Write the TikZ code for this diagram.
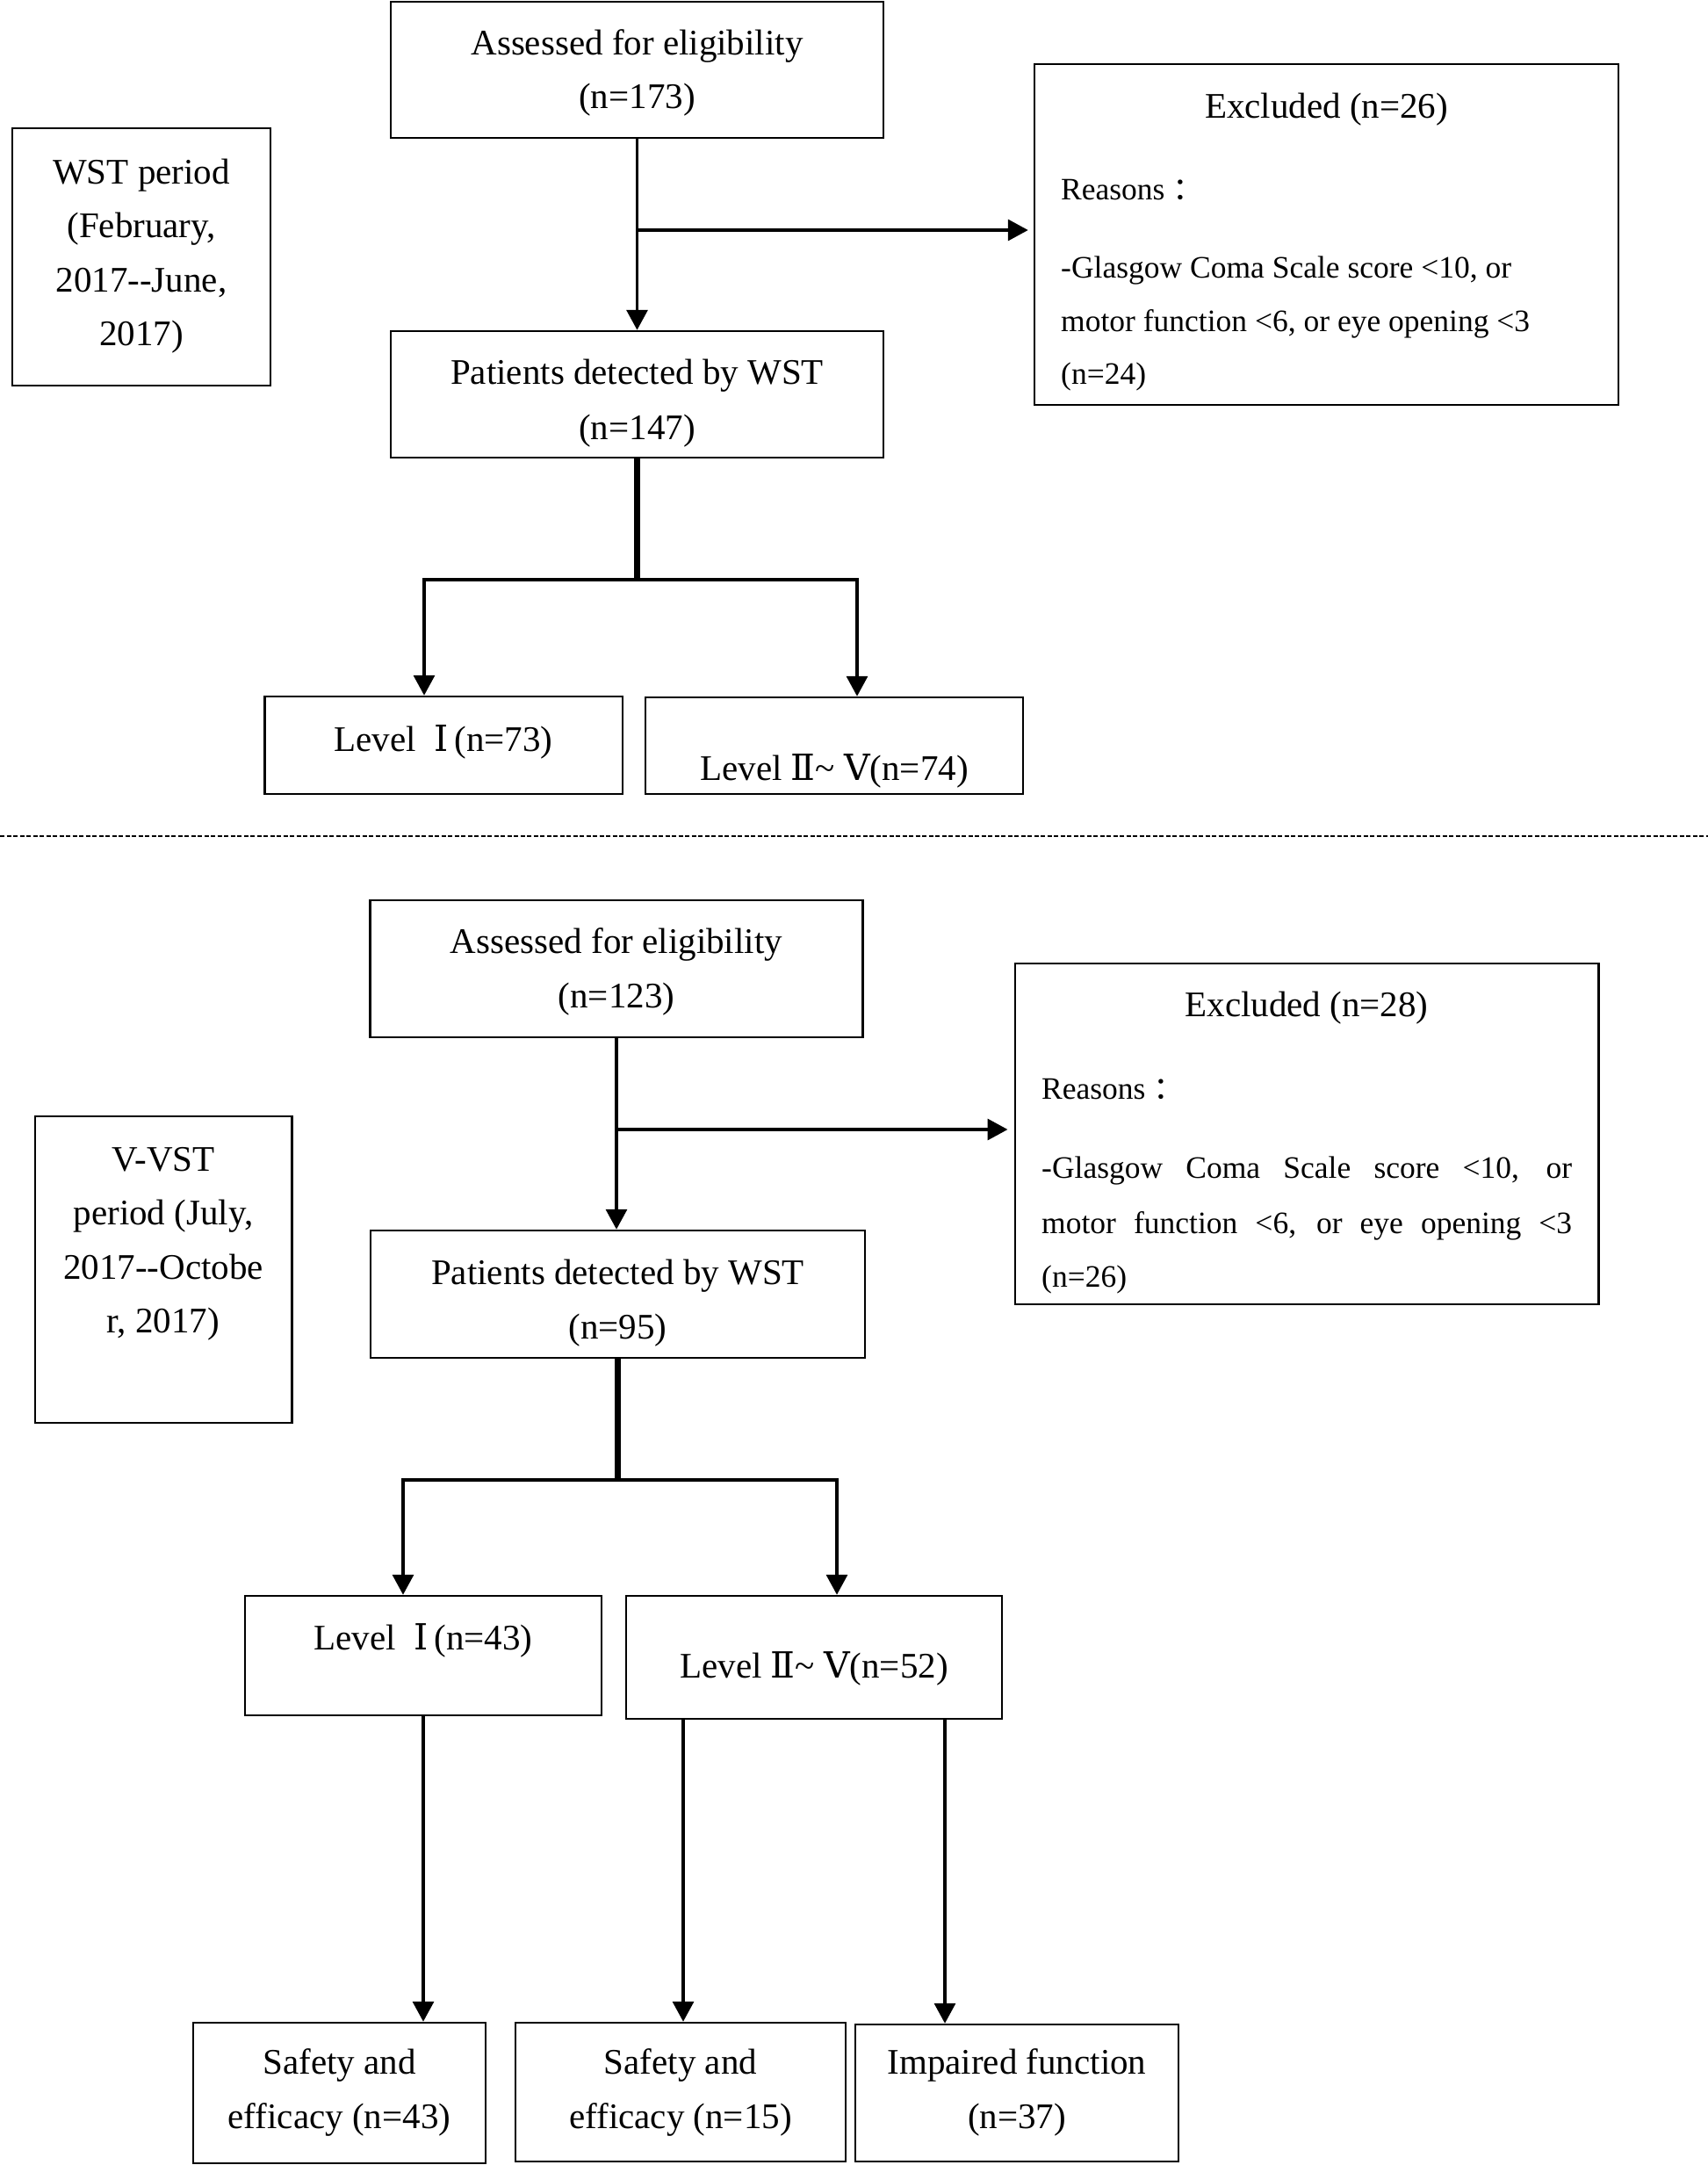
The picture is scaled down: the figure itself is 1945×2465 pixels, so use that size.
\documentclass[tikz,border=0pt]{standalone}
\usepackage{fontspec}
\setmainfont{Liberation Serif}
\newfontfamily\cjk{Noto Sans CJK SC}
\newfontfamily\numf{DejaVu Serif}
\usetikzlibrary{arrows.meta,calc}
\newcommand{\romI}{{\numf Ⅰ}}
\newcommand{\romII}{{\numf Ⅱ}}
\newcommand{\romV}{{\numf Ⅴ}}
\newcommand{\dd}{\mbox{-}\mbox{-}}
\tikzset{
  bx/.style={draw, line width=2.5pt, rectangle, inner sep=0pt},
  tx/.style={font=\fontsize{41pt}{49pt}\selectfont, inner sep=0pt, anchor=base},
  rs/.style={font=\fontsize{35.5pt}{42pt}\selectfont, inner sep=0pt, anchor=base west},
  conn/.style={line width=3.5pt},
  trunk/.style={line width=7pt},
  arr/.style={line width=3.5pt, -{Triangle[length=23pt,width=24pt]}},
  dl/.style={line width=2pt, dash pattern=on 5pt off 2.5pt}
}
\begin{document}
\begin{tikzpicture}[x=1pt,y=-1pt]
\fill[white] (0,0) rectangle (1945,2465);
\useasboundingbox (0,0) rectangle (1945,2465);

% ---------- top section ----------
\node[bx, minimum width=561pt, minimum height=155pt] (a1) at (725.5,79.5) {};
\node[tx] (a1t1) at (725.5,62.5) {Assessed for eligibility};
\node[tx] (a1t2) at (725.5,123) {(n=173)};

\node[bx, minimum width=294pt, minimum height=293pt] (w1) at (161,292.5) {};
\node[tx] (w1t1) at (161,209) {WST period};
\node[tx] (w1t2) at (161,270.5) {(February,};
\node[tx] (w1t3) at (161,332) {2017\dd June,};
\node[tx] (w1t4) at (161,393.5) {2017)};

\node[bx, minimum width=561pt, minimum height=144pt] (p1) at (725.5,449) {};
\node[tx] (p1t1) at (725.5,437.5) {Patients detected by WST};
\node[tx] (p1t2) at (725.5,500) {(n=147)};

\node[bx, minimum width=665pt, minimum height=388pt] (e1) at (1510.5,267) {};
\node[tx] (e1t) at (1510.5,134) {Excluded (n=26)};
\node[rs] (e1r1) at (1208,227) {Reasons\hspace{9pt}{\cjk ：}};
\node[rs] (e1r2) at (1208,316) {-Glasgow Coma Scale score <10, or};
\node[rs] (e1r3) at (1208,377) {motor function <6, or eye opening <3};
\node[rs] (e1r4) at (1208,437) {(n=24)};

\node[bx, minimum width=407.5pt, minimum height=111pt] (l1) at (505,848.5) {};
\node[tx] (l1t) at (505,855) {Level\ \ \romI\,(n=73)};
\node[bx, minimum width=430pt, minimum height=110pt] (l2) at (950,849) {};
\node[tx] (l2t) at (950,888) {Level \romII\textasciitilde\ \romV(n=74)};

\draw[arr] (a1.south) -- (p1.north);
\coordinate (j1) at (725.5,262);
\draw[arr, shorten >=6pt] (j1) -- (j1 -| e1.west);
\coordinate (s1) at (725.5,660);
\coordinate (s1l) at (483,660);
\coordinate (s1r) at (976,660);
\draw[trunk] (p1.south) -- (s1);
\draw[arr] (s1) -- (s1l) -- (s1l |- l1.north);
\draw[arr] (s1) -- (s1r) -- (s1r |- l2.north);

% ---------- separator ----------
\coordinate (dl1) at (0,952);
\coordinate (dl2) at (1945,952);
\draw[dl] (dl1) -- (dl2);

% ---------- bottom section ----------
\node[bx, minimum width=561pt, minimum height=156pt] (a2) at (702,1103) {};
\node[tx] (a2t1) at (702,1085) {Assessed for eligibility};
\node[tx] (a2t2) at (702,1147) {(n=123)};

\node[bx, minimum width=292.5pt, minimum height=349pt] (w2) at (186,1445.5) {};
\node[tx] (w2t1) at (186,1333) {V-VST};
\node[tx] (w2t2) at (186,1394.5) {period (July,};
\node[tx] (w2t3) at (186,1456) {2017\dd Octobe};
\node[tx] (w2t4) at (186,1517.5) {r, 2017)};

\node[bx, minimum width=563pt, minimum height=145pt] (p2) at (703.5,1473.5) {};
\node[tx] (p2t1) at (703.5,1462) {Patients detected by WST};
\node[tx] (p2t2) at (703.5,1524) {(n=95)};

\node[bx, minimum width=664.5pt, minimum height=388pt] (e2) at (1488,1291) {};
\node[tx] (e2t) at (1488,1157) {Excluded (n=28)};
\node[rs] (e2r1) at (1186,1251) {Reasons\hspace{9pt}{\cjk ：}};
\node[rs] (e2r2) at (1186,1341) {\makebox[604pt][s]{-Glasgow Coma Scale score <10, or}};
\node[rs] (e2r3) at (1186,1404) {\makebox[604pt][s]{motor function <6, or eye opening <3}};
\node[rs] (e2r4) at (1186,1465) {(n=26)};

\node[bx, minimum width=406pt, minimum height=136pt] (l1b) at (482,1885) {};
\node[tx] (l1bt) at (482,1878) {Level\ \ \romI\,(n=43)};
\node[bx, minimum width=428pt, minimum height=140pt] (l2b) at (927,1887) {};
\node[tx] (l2bt) at (927,1910) {Level \romII\textasciitilde\ \romV(n=52)};

\node[bx, minimum width=333pt, minimum height=160pt] (sa) at (386.5,2383) {};
\node[tx] (sat1) at (386.5,2361) {Safety and};
\node[tx] (sat2) at (386.5,2423) {efficacy (n=43)};
\node[bx, minimum width=376pt, minimum height=158pt] (sb) at (775,2382) {};
\node[tx] (sbt1) at (775,2361) {Safety and};
\node[tx] (sbt2) at (775,2423) {efficacy (n=15)};
\node[bx, minimum width=368pt, minimum height=156pt] (sc) at (1158,2383) {};
\node[tx] (sct1) at (1158,2361) {Impaired function};
\node[tx] (sct2) at (1158,2423) {(n=37)};

\draw[arr] (a2.south) -- (a2.south |- p2.north);
\coordinate (j2) at (702,1286);
\draw[arr, shorten >=7pt] (j2) -- (j2 -| e2.west);
\coordinate (s2) at (703.5,1685);
\coordinate (s2l) at (459,1685);
\coordinate (s2r) at (953,1685);
\draw[trunk] (p2.south) -- (s2);
\draw[arr] (s2) -- (s2l) -- (s2l |- l1b.north);
\draw[arr] (s2) -- (s2r) -- (s2r |- l2b.north);

\coordinate (q1) at (l1b.south);
\coordinate (q2) at ($(l2b.south)+(-149,0)$);
\coordinate (q3) at ($(l2b.south)+(149,0)$);
\draw[arr] (q1) -- (q1 |- sa.north);
\draw[arr] (q2) -- (q2 |- sb.north);
\draw[arr] (q3) -- (q3 |- sc.north);
\end{tikzpicture}
\end{document}
